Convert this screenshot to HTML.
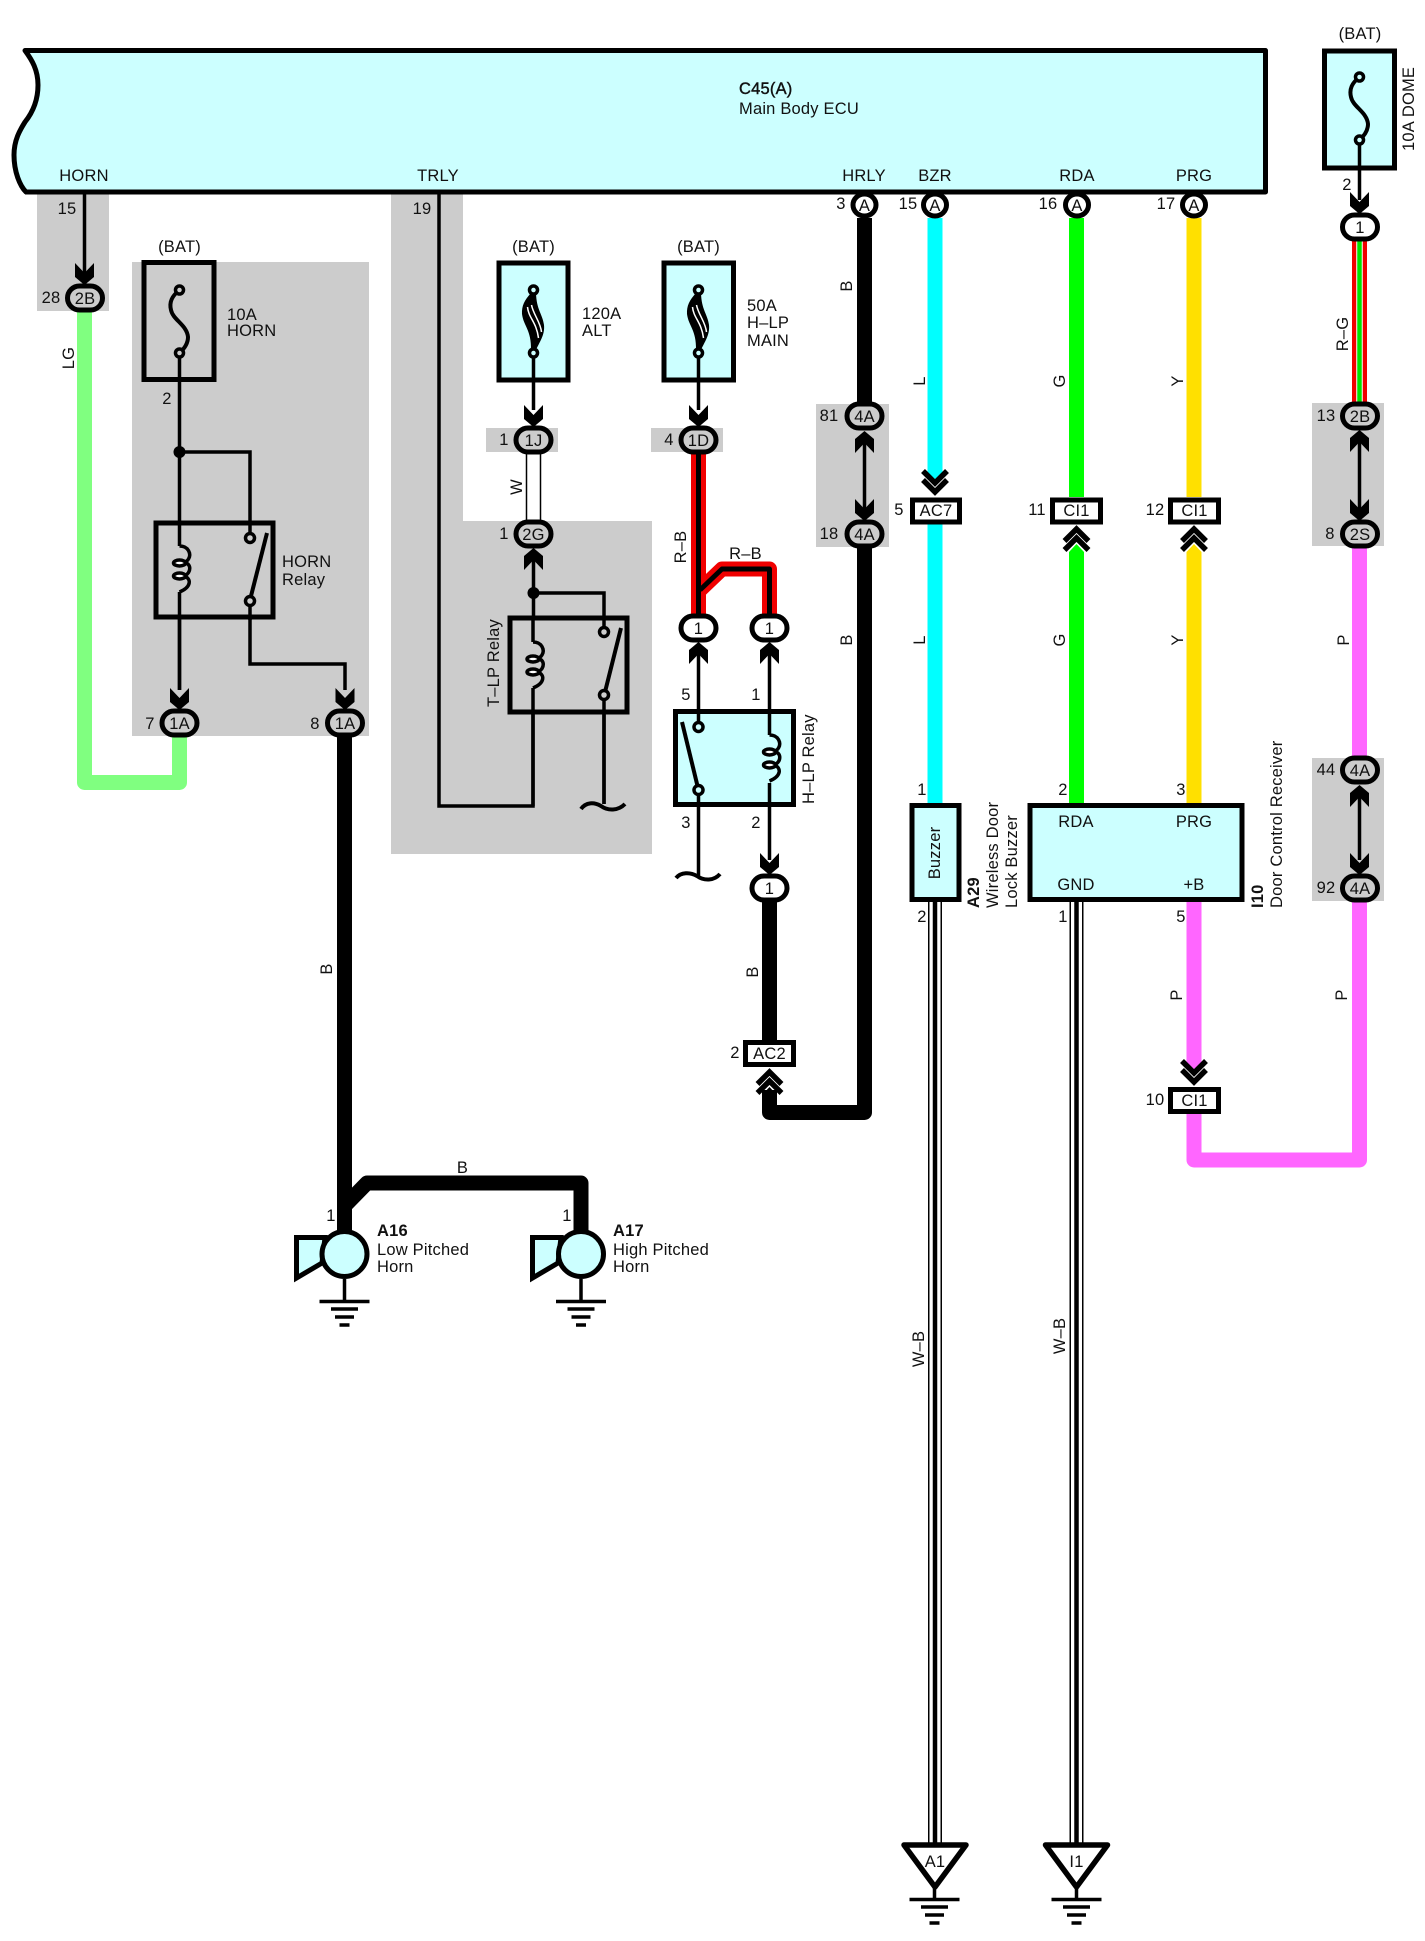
<!DOCTYPE html>
<html><head><meta charset="utf-8"><style>
html,body{margin:0;padding:0;background:#fff}
svg{display:block}
text{font-family:"Liberation Sans",sans-serif;font-size:16.5px;fill:#111;letter-spacing:.2px}
.m{text-anchor:middle}
.b{font-weight:bold}
.l{fill:none;stroke:#000;stroke-width:3.5;stroke-linejoin:miter}
.f{fill:none;stroke:#000;stroke-width:5}
</style></head><body>
<svg xmlns="http://www.w3.org/2000/svg" width="1425" height="1941" viewBox="0 0 1425 1941">
<defs>
<path id="ad" d="M-9.5-22L0-12L9.500-22V-8L0 0L-9.500-8Z" fill="#000"/>
<path id="au" d="M-9.5 22L0 12L9.500 22V8L0 0L-9.500 8Z" fill="#000"/>
<rect id="ov" x="-17.500" y="-12" width="35" height="24" rx="12" stroke="#000" stroke-width="5"/>
<ellipse id="ac" cx="0" cy="0" rx="11.500" ry="11" fill="#fff" stroke="#000" stroke-width="5"/>
<path id="cu" d="M-12 17L0 5L12 17M-12 26L0 14L12 26" fill="none" stroke="#000" stroke-width="5.500"/>
<path id="cd" d="M-12-26L0-14L12-26M-12-17L0-5L12-17" fill="none" stroke="#000" stroke-width="5.500"/>
<g id="coil"><path d="M0 0C9 0 12 8 9 13C8 15 7 15 5 16.500M5 16.500C12 18 12 26 5 30M5 30C12 33 12 41 0 46" fill="none" stroke="#000" stroke-width="3.500"/><ellipse cx="0" cy="17" rx="6" ry="3" fill="#fff" stroke="#000" stroke-width="3.500"/><ellipse cx="0" cy="30" rx="6" ry="3" fill="#fff" stroke="#000" stroke-width="3.500"/></g>
<path id="fu" d="M0 0C-7.500 6-10.500 12-8.500 20C-6.500 30 7.500 35 8.500 47C8.500 54 4.500 59 0 63" fill="none" stroke="#000" stroke-width="4"/>
<g id="hf"><path d="M-2.500 3C-9 10-12 16-11.500 24C-10 36-2 40-2.500 60L2.500 60C6 52 11.500 45 10.500 35C9 24 3 20 2.500 3Z" fill="#000"/><path d="M-6 17C-5 28 3 32 5 48M-2 15C0 25 7 32 8 42" fill="none" stroke="#fff" stroke-width="1.500"/></g>
<g id="gnd"><path d="M0 0V22" stroke="#000" stroke-width="3.500"/><path d="M-25 22.500H25" stroke="#000" stroke-width="3.500"/><path d="M-13.500 30H13.500" stroke="#000" stroke-width="3.500"/><path d="M-9.500 38H9.500" stroke="#000" stroke-width="3.500"/><path d="M-5 46H5" stroke="#000" stroke-width="3.500"/></g>
</defs>
<rect width="1425" height="1941" fill="#fff"/>

<!-- grey zones -->
<g fill="#ccc">
<rect x="37" y="192" width="72" height="119"/>
<rect x="132" y="262" width="237" height="474"/>
<rect x="391" y="192" width="72" height="330"/>
<rect x="391" y="521" width="261" height="333"/>
<rect x="486" y="428" width="72" height="24"/>
<rect x="651" y="428" width="72" height="24"/>
<rect x="816" y="404" width="73" height="143"/>
<rect x="1312" y="403" width="72" height="143"/>
<rect x="1312" y="758" width="72" height="143"/>
</g>

<!-- coloured wires -->
<g fill="none" stroke-linejoin="round">
<path d="M84.500 311V782.500H179.500V736" stroke="#80ff80" stroke-width="15"/>
<path d="M344.500 736V1240" stroke="#000" stroke-width="15"/>
<path d="M344.500 1206L367 1183H581V1235" stroke="#000" stroke-width="15"/>
<path d="M769.500 900V1040" stroke="#000" stroke-width="15"/>
<path d="M864.500 218V403M864.500 546V1112.500H769.500V1090" stroke="#000" stroke-width="15"/>
<path d="M935 218V478" stroke="#00ffff" stroke-width="15"/>
<path d="M935 524V803" stroke="#00ffff" stroke-width="15"/>
<path d="M1076.500 218V497" stroke="#00ff00" stroke-width="15"/>
<path d="M1076.500 552V803" stroke="#00ff00" stroke-width="15"/>
<path d="M1194 218V497" stroke="#ffe000" stroke-width="15"/>
<path d="M1194 552V803" stroke="#ffe000" stroke-width="15"/>
<path d="M1194 902V1066" stroke="#ff66ff" stroke-width="15"/>
<path d="M1194 1114V1160H1359.500V900" stroke="#ff66ff" stroke-width="15"/>
<path d="M1359.500 546V758" stroke="#ff66ff" stroke-width="15"/>
<path d="M1359.500 241V403" stroke="#f00000" stroke-width="15"/>
<path d="M1359.500 241V403" stroke="#fff" stroke-width="6.500"/>
<path d="M1359.500 241V403" stroke="#00e000" stroke-width="4.500"/>
<path d="M533.500 452V521" stroke="#000" stroke-width="15.500"/>
<path d="M533.500 452V521" stroke="#fff" stroke-width="12.500"/>
<path d="M698.500 452V617" stroke="#f00000" stroke-width="15"/>
<path d="M700 590L722 569H769.500V617" stroke="#f00000" stroke-width="15"/>
<path d="M698.500 452V617" stroke="#000" stroke-width="5"/>
<path d="M700 590L722 569H769.500V617" stroke="#000" stroke-width="5"/>
<path d="M935 902V1845" stroke="#000" stroke-width="14"/>
<path d="M935 902V1845" stroke="#fff" stroke-width="11"/>
<path d="M935 902V1845" stroke="#000" stroke-width="4.500"/>
<path d="M1076.500 902V1845" stroke="#000" stroke-width="14"/>
<path d="M1076.500 902V1845" stroke="#fff" stroke-width="11"/>
<path d="M1076.500 902V1845" stroke="#000" stroke-width="4.500"/>
</g>
<!-- wire tips in double chevrons -->
<path d="M927.500 476L935 483L942.500 476Z" fill="#00ffff"/>
<path d="M1069 552L1076.500 544L1084 552Z" fill="#00ff00"/>
<path d="M1186.500 552L1194 544L1201.500 552Z" fill="#ffe000"/>
<path d="M1186.500 1064L1194 1071L1201.500 1064Z" fill="#ff66ff"/>
<path d="M762 1095L769.500 1087L777 1095Z" fill="#000"/>

<!-- ECU -->
<path d="M25 50.500H1265.500V192H26C20 186 14 172 14 155C14 140 20 130 25 122C33 112 38 100 38 85C38 70 32 60 25 50.500Z" fill="#ccffff" stroke="#000" stroke-width="5" stroke-linejoin="round"/>
<text x="739" y="94" style="stroke:#111;stroke-width:.4">C45(A)</text>
<text x="739" y="114">Main Body ECU</text>
<text class="m" x="84" y="181">HORN</text>
<text class="m" x="438" y="181">TRLY</text>
<text class="m" x="864" y="181">HRLY</text>
<text class="m" x="935" y="181">BZR</text>
<text class="m" x="1077" y="181">RDA</text>
<text class="m" x="1194" y="181">PRG</text>

<!-- thin wires -->
<path class="l" d="M84.500 192V285"/>
<path class="l" d="M179.500 353V690"/>
<path class="l" d="M179.500 452H250V538"/>
<path class="l" d="M250 601V664H345V690"/>
<path class="l" d="M439 192V806H533V688"/>
<path class="l" d="M533.500 353V410"/>
<path class="l" d="M533.500 550V642"/>
<path class="l" d="M533.500 593H604V632"/>
<path class="l" d="M604 695V804"/>
<path class="l" d="M698.500 353V410"/>
<path class="l" d="M698.500 645V877"/>
<path class="l" d="M769.500 645V735M769.500 783V860"/>
<path class="l" d="M864.500 433V510"/>
<path class="l" d="M1359.500 140V200"/>
<path class="l" d="M1359.500 432V510"/>
<path class="l" d="M1359.500 787V860"/>

<!-- HORN fuse -->
<rect x="144" y="262.500" width="70" height="117" fill="#ccc" stroke="#000" stroke-width="5"/>
<path class="l" d="M179.500 353V380"/>
<use href="#fu" x="179.500" y="290"/>
<circle cx="179.500" cy="290" r="4" fill="#ccc" stroke="#000" stroke-width="3.500"/>
<circle cx="179.500" cy="353" r="4" fill="#ccc" stroke="#000" stroke-width="3.500"/>
<text class="m" x="179.500" y="252">(BAT)</text>
<text x="227" y="320">10A</text>
<text x="227" y="336">HORN</text>
<text class="m" x="167" y="404">2</text>
<circle cx="179.500" cy="452" r="6" fill="#000"/>

<!-- HORN relay -->
<rect x="156" y="523" width="117" height="94" fill="#ccc" stroke="#000" stroke-width="5"/>
<path class="l" d="M179.500 523V546M179.500 592V690M250 523V534M250 605V620"/>
<use href="#coil" x="179.500" y="546"/>
<path d="M267 533L250 600" stroke="#000" stroke-width="4" fill="none"/>
<circle cx="250" cy="538" r="4.500" fill="#ccc" stroke="#000" stroke-width="3.500"/>
<circle cx="250" cy="601" r="4.500" fill="#ccc" stroke="#000" stroke-width="3.500"/>
<text x="282" y="567">HORN</text>
<text x="282" y="585">Relay</text>

<!-- 120A fuse -->
<rect x="499" y="263" width="69" height="117" fill="#ccffff" stroke="#000" stroke-width="5"/>
<use href="#hf" x="533.500" y="290"/>
<path class="l" d="M533.500 353V380"/>
<circle cx="533.500" cy="290" r="4" fill="#ccffff" stroke="#000" stroke-width="3.500"/>
<circle cx="533.500" cy="353" r="4" fill="#ccffff" stroke="#000" stroke-width="3.500"/>
<text class="m" x="533.500" y="252">(BAT)</text>
<text x="582" y="319">120A</text>
<text x="582" y="336">ALT</text>

<!-- 50A fuse -->
<rect x="664" y="263" width="69.500" height="117" fill="#ccffff" stroke="#000" stroke-width="5"/>
<use href="#hf" x="698.500" y="290"/>
<path class="l" d="M698.500 353V380"/>
<circle cx="698.500" cy="290" r="4" fill="#ccffff" stroke="#000" stroke-width="3.500"/>
<circle cx="698.500" cy="353" r="4" fill="#ccffff" stroke="#000" stroke-width="3.500"/>
<text class="m" x="698.500" y="252">(BAT)</text>
<text x="747" y="311">50A</text>
<text x="747" y="328">H–LP</text>
<text x="747" y="346">MAIN</text>

<!-- T-LP relay -->
<rect x="510" y="618" width="117" height="94" fill="#ccc" stroke="#000" stroke-width="5"/>
<path class="l" d="M533 618V642M533 688V806M604 618V632M604 695V804"/>
<use href="#coil" x="533" y="642"/>
<path d="M621 628L605 692" stroke="#000" stroke-width="4" fill="none"/>
<circle cx="604" cy="632" r="4.500" fill="#ccc" stroke="#000" stroke-width="3.500"/>
<circle cx="604" cy="695" r="4.500" fill="#ccc" stroke="#000" stroke-width="3.500"/>
<circle cx="533.500" cy="593" r="6" fill="#000"/>
<path d="M581 809C586 802 594 802 601 806C608 811 618 811 625 804" fill="none" stroke="#000" stroke-width="4"/>
<text transform="translate(499,707) rotate(-90)">T–LP Relay</text>

<!-- H-LP relay -->
<rect x="675.500" y="711.500" width="118" height="93" fill="#ccffff" stroke="#000" stroke-width="5"/>
<path class="l" d="M698.500 711V727M698.500 790V806M769.500 711V735M769.500 783V806"/>
<use href="#coil" x="769.500" y="735"/>
<path d="M682 722L698 788" stroke="#000" stroke-width="4" fill="none"/>
<circle cx="698.500" cy="727" r="4.500" fill="#ccffff" stroke="#000" stroke-width="3.500"/>
<circle cx="698.500" cy="790" r="4.500" fill="#ccffff" stroke="#000" stroke-width="3.500"/>
<path d="M676 878C681 872 690 872 697 876C704 881 714 881 720 874" fill="none" stroke="#000" stroke-width="4"/>
<text transform="translate(814,804) rotate(-90)">H–LP Relay</text>
<text class="m" x="686" y="700">5</text><text class="m" x="756" y="700">1</text>
<text class="m" x="686" y="828">3</text><text class="m" x="756" y="828">2</text>

<!-- arrows -->
<use href="#ad" x="84.500" y="285"/>
<use href="#ad" x="179.500" y="710"/>
<use href="#ad" x="345" y="710"/>
<use href="#ad" x="533.500" y="427"/>
<use href="#ad" x="698.500" y="427"/>
<use href="#au" x="533.500" y="548"/>
<use href="#au" x="698.500" y="642"/>
<use href="#au" x="769.500" y="642"/>
<use href="#ad" x="769.500" y="875"/>
<use href="#au" x="864.500" y="431"/>
<use href="#ad" x="864.500" y="521"/>
<use href="#ad" x="1359.500" y="214"/>
<use href="#au" x="1359.500" y="430"/>
<use href="#ad" x="1359.500" y="521"/>
<use href="#au" x="1359.500" y="785"/>
<use href="#ad" x="1359.500" y="875"/>

<!-- ovals -->
<g>
<use href="#ov" x="85" y="298" fill="#ccc"/><text class="m" x="85" y="304">2B</text>
<use href="#ov" x="179.500" y="723" fill="#ccc"/><text class="m" x="179.500" y="729">1A</text>
<use href="#ov" x="345" y="723" fill="#ccc"/><text class="m" x="345" y="729">1A</text>
<use href="#ov" x="533.500" y="440" fill="#ccc"/><text class="m" x="533.500" y="446">1J</text>
<use href="#ov" x="698.500" y="440" fill="#ccc"/><text class="m" x="698.500" y="446">1D</text>
<use href="#ov" x="533.500" y="534" fill="#ccc"/><text class="m" x="533.500" y="540">2G</text>
<use href="#ov" x="698.500" y="628" fill="#fff"/><text class="m" x="698.500" y="634">1</text>
<use href="#ov" x="769.500" y="628" fill="#fff"/><text class="m" x="769.500" y="634">1</text>
<use href="#ov" x="769.500" y="888" fill="#fff"/><text class="m" x="769.500" y="894">1</text>
<use href="#ov" x="864.500" y="416" fill="#ccc"/><text class="m" x="864.500" y="422">4A</text>
<use href="#ov" x="864.500" y="534" fill="#ccc"/><text class="m" x="864.500" y="540">4A</text>
<use href="#ov" x="1360" y="227" fill="#fff"/><text class="m" x="1360" y="233">1</text>
<use href="#ov" x="1360" y="416" fill="#ccc"/><text class="m" x="1360" y="422">2B</text>
<use href="#ov" x="1360" y="534" fill="#ccc"/><text class="m" x="1360" y="540">2S</text>
<use href="#ov" x="1360" y="770" fill="#ccc"/><text class="m" x="1360" y="776">4A</text>
<use href="#ov" x="1360" y="888" fill="#ccc"/><text class="m" x="1360" y="894">4A</text>
</g>

<!-- A connectors -->
<use href="#ac" x="864.500" y="205"/><text class="m" x="864.500" y="211">A</text>
<use href="#ac" x="935" y="205"/><text class="m" x="935" y="211">A</text>
<use href="#ac" x="1077" y="205"/><text class="m" x="1077" y="211">A</text>
<use href="#ac" x="1194" y="205"/><text class="m" x="1194" y="211">A</text>
<path d="M25 192H1265" stroke="#000" stroke-width="5"/>

<!-- box connectors -->
<g fill="#fff" stroke="#000" stroke-width="5">
<rect x="912.500" y="500" width="47" height="22"/>
<rect x="1052.500" y="500" width="48" height="22"/>
<rect x="1170.500" y="500" width="48" height="22"/>
<rect x="745.500" y="1042.500" width="48" height="22"/>
<rect x="1170.500" y="1089.500" width="48" height="22"/>
</g>
<text class="m" x="936" y="516">AC7</text>
<text class="m" x="1076.500" y="516">CI1</text>
<text class="m" x="1194.500" y="516">CI1</text>
<text class="m" x="769.500" y="1059">AC2</text>
<text class="m" x="1194.500" y="1106">CI1</text>
<use href="#cd" x="935" y="497"/>
<use href="#cu" x="1076.500" y="524"/>
<use href="#cu" x="1194" y="524"/>
<use href="#cu" x="769.500" y="1067"/>
<use href="#cd" x="1194" y="1087"/>

<!-- 10A dome -->
<rect x="1324.500" y="51" width="70" height="117" fill="#ccffff" stroke="#000" stroke-width="5"/>
<use href="#fu" x="1359.500" y="77"/>
<path class="l" d="M1359.500 140V168"/>
<circle cx="1359.500" cy="77" r="4" fill="#ccffff" stroke="#000" stroke-width="3.500"/>
<circle cx="1359.500" cy="140" r="4" fill="#ccffff" stroke="#000" stroke-width="3.500"/>
<text class="m" x="1360" y="39">(BAT)</text>
<text transform="translate(1414,151) rotate(-90)">10A DOME</text>
<text class="m" x="1347" y="190">2</text>

<!-- devices -->
<rect x="912" y="805.500" width="47" height="94" fill="#ccffff" stroke="#000" stroke-width="5"/>
<text class="m" transform="translate(940,853) rotate(-90)">Buzzer</text>
<rect x="1030" y="805.500" width="212" height="94" fill="#ccffff" stroke="#000" stroke-width="5"/>
<text class="m" x="1076" y="827">RDA</text><text class="m" x="1194" y="827">PRG</text>
<text class="m" x="1076" y="890">GND</text><text class="m" x="1194" y="890">+B</text>
<text class="b" transform="translate(979,908) rotate(-90)">A29</text>
<text transform="translate(998,908) rotate(-90)">Wireless Door</text>
<text transform="translate(1017,908) rotate(-90)">Lock Buzzer</text>
<text class="b" transform="translate(1263,908) rotate(-90)">I10</text>
<text transform="translate(1282,908) rotate(-90)">Door Control Receiver</text>

<!-- horns -->
<path d="M296.500 1237.500H325L322 1263L296.500 1278Z" fill="#ccffff" stroke="#000" stroke-width="5"/>
<circle cx="344.500" cy="1254" r="22.500" fill="#ccffff" stroke="#000" stroke-width="5"/>
<use href="#gnd" x="344.500" y="1279"/>
<path d="M532.500 1237.500H561L558 1263L532.500 1278Z" fill="#ccffff" stroke="#000" stroke-width="5"/>
<circle cx="581" cy="1254" r="22.500" fill="#ccffff" stroke="#000" stroke-width="5"/>
<use href="#gnd" x="581" y="1279"/>
<text class="b" x="377" y="1236">A16</text><text x="377" y="1255">Low Pitched</text><text x="377" y="1272">Horn</text>
<text class="b" x="613" y="1236">A17</text><text x="613" y="1255">High Pitched</text><text x="613" y="1272">Horn</text>

<!-- grounds -->
<g transform="translate(934.500,1877)"><use href="#gnd"/></g>
<g transform="translate(1076.500,1877)"><use href="#gnd"/></g>
<path d="M904 1845H966L935 1887Z" fill="#fff" stroke="#000" stroke-width="5.500" stroke-linejoin="round"/>
<path d="M1045.500 1845H1107.500L1076.500 1887Z" fill="#fff" stroke="#000" stroke-width="5.500" stroke-linejoin="round"/>
<text class="m" x="935" y="1867">A1</text>
<text class="m" x="1076.500" y="1867">I1</text>

<!-- pin numbers -->
<g class="m">
<text class="m" x="67" y="214">15</text>
<text class="m" x="51" y="303">28</text>
<text class="m" x="422" y="214">19</text>
<text class="m" x="150" y="729">7</text>
<text class="m" x="315" y="729">8</text>
<text class="m" x="504" y="445">1</text>
<text class="m" x="669" y="445">4</text>
<text class="m" x="504" y="539">1</text>
<text class="m" x="829" y="421">81</text>
<text class="m" x="829" y="539">18</text>
<text class="m" x="841" y="209">3</text>
<text class="m" x="908" y="209">15</text>
<text class="m" x="1048" y="209">16</text>
<text class="m" x="1166" y="209">17</text>
<text class="m" x="899" y="515">5</text>
<text class="m" x="1037" y="515">11</text>
<text class="m" x="1155" y="515">12</text>
<text class="m" x="735" y="1058">2</text>
<text class="m" x="1155" y="1105">10</text>
<text class="m" x="1326" y="421">13</text>
<text class="m" x="1330" y="539">8</text>
<text class="m" x="1326" y="775">44</text>
<text class="m" x="1326" y="893">92</text>
<text class="m" x="922" y="795">1</text>
<text class="m" x="922" y="922">2</text>
<text class="m" x="1063" y="795">2</text>
<text class="m" x="1181" y="795">3</text>
<text class="m" x="1063" y="922">1</text>
<text class="m" x="1181" y="922">5</text>
<text class="m" x="331" y="1221">1</text>
<text class="m" x="567" y="1221">1</text>
</g>

<!-- wire labels -->
<text class="m" transform="translate(74,358) rotate(-90)">LG</text>
<text class="m" transform="translate(522,487) rotate(-90)">W</text>
<text class="m" transform="translate(686,547) rotate(-90)">R–B</text>
<text class="m" x="745.500" y="559">R–B</text>
<text class="m" transform="translate(852,286) rotate(-90)">B</text>
<text class="m" transform="translate(852,640) rotate(-90)">B</text>
<text class="m" transform="translate(758,972) rotate(-90)">B</text>
<text class="m" transform="translate(332,969) rotate(-90)">B</text>
<text class="m" x="462.500" y="1173">B</text>
<text class="m" transform="translate(925,381) rotate(-90)">L</text>
<text class="m" transform="translate(925,640) rotate(-90)">L</text>
<text class="m" transform="translate(1065,381) rotate(-90)">G</text>
<text class="m" transform="translate(1065,640) rotate(-90)">G</text>
<text class="m" transform="translate(1183,381) rotate(-90)">Y</text>
<text class="m" transform="translate(1183,640) rotate(-90)">Y</text>
<text class="m" transform="translate(1348,334) rotate(-90)">R–G</text>
<text class="m" transform="translate(1349,640) rotate(-90)">P</text>
<text class="m" transform="translate(1182,995) rotate(-90)">P</text>
<text class="m" transform="translate(1347,995) rotate(-90)">P</text>
<text class="m" transform="translate(924,1349) rotate(-90)">W–B</text>
<text class="m" transform="translate(1065,1336) rotate(-90)">W–B</text>
</svg>
</body></html>
